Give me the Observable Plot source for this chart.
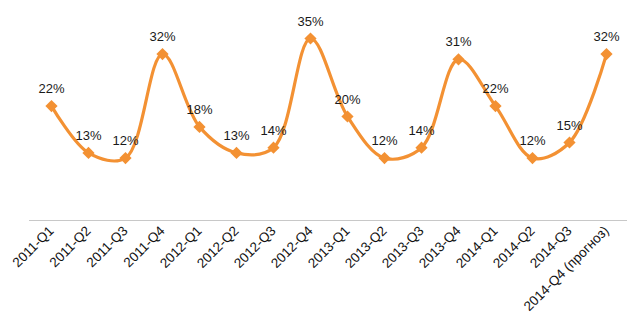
<!DOCTYPE html>
<html>
<head>
<meta charset="utf-8">
<script src="https://cdn.jsdelivr.net/npm/d3@7"></script>
<script src="https://cdn.jsdelivr.net/npm/@observablehq/plot@0.6"></script>
<style>
  html, body { margin: 0; padding: 0; background: #fff; }
  #chart { width: 640px; height: 326px; }
</style>
</head>
<body>
<div id="chart"></div>
<script>
const quarters = ["2011-Q1","2011-Q2","2011-Q3","2011-Q4","2012-Q1","2012-Q2","2012-Q3","2012-Q4","2013-Q1","2013-Q2","2013-Q3","2013-Q4","2014-Q1","2014-Q2","2014-Q3","2014-Q4 (прогноз)"];
const values = [22, 13, 12, 32, 18, 13, 14, 35, 20, 12, 14, 31, 22, 12, 15, 32];

const data = quarters.map((q, i) => ({q, v: values[i]}));
const orange = "#F39133";

const chart = Plot.plot({
  width: 640,
  height: 326,
  marginLeft: 29,
  marginRight: 13,
  marginTop: 12,
  marginBottom: 106,
  style: {fontFamily: "'Liberation Sans', Arial, sans-serif", fontSize: "12px", color: "#111", background: "#fff"},
  x: {type: "point", domain: quarters, padding: 0.5, label: null},
  y: {domain: [0, 40], axis: null},
  marks: [
    Plot.axisX({tickRotate: -45, tickSize: 0, tickPadding: 8, fontSize: 13.5, label: null, fill: "#111"}),
    Plot.ruleY([0], {stroke: "#c8c8c8", strokeWidth: 1}),
    Plot.line(data, {x: "q", y: "v", curve: "catmull-rom", stroke: orange, strokeWidth: 3.2}),
    Plot.dot(data, {x: "q", y: "v", symbol: "diamond2", r: 5.5, fill: orange, stroke: "none"}),
    Plot.text(data, {x: "q", y: "v", text: d => d.v + "%", dy: -17, fontSize: 13, fill: "#1a1a1a"})
  ]
});
document.getElementById("chart").appendChild(chart);
</script>
</body>
</html>
